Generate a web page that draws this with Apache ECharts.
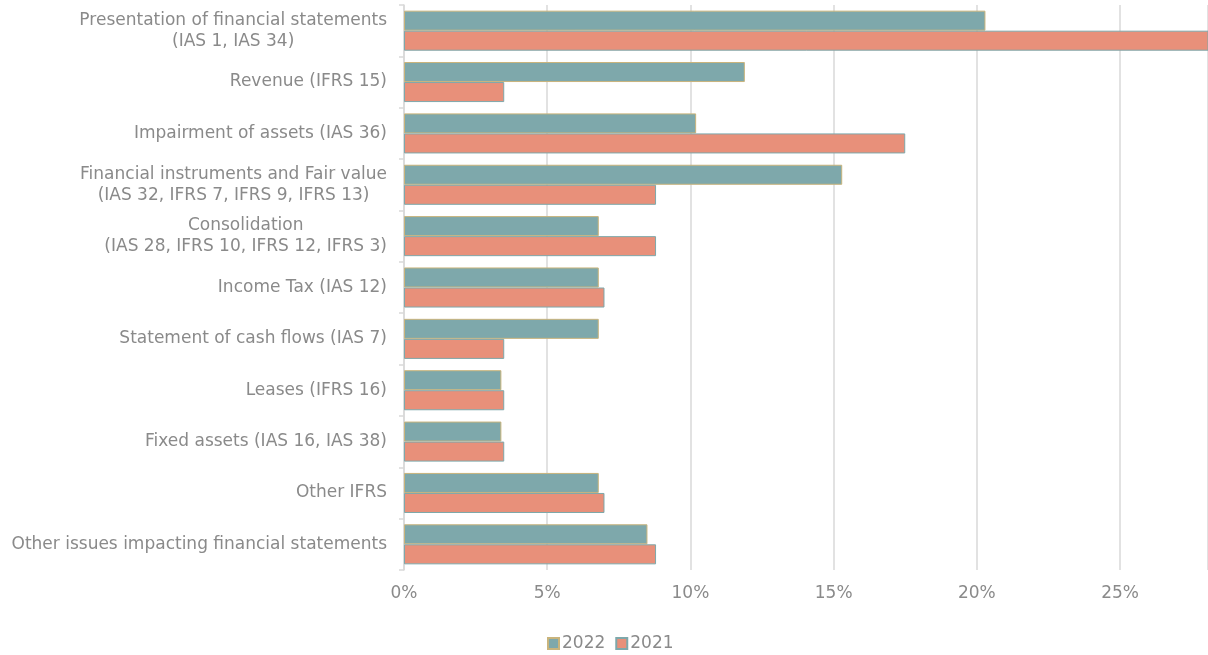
<!DOCTYPE html>
<html><head><meta charset="utf-8">
<script src="https://cdn.jsdelivr.net/npm/echarts@6/dist/echarts.min.js"></script>
<style>html,body{margin:0;padding:0;background:#fff}#c{width:1208px;height:655px}</style>
</head><body><div id="c"></div>
<script>
const categories = [
  'Presentation of financial statements\n(IAS 1, IAS 34)',
  'Revenue (IFRS 15)',
  'Impairment of assets (IAS 36)',
  'Financial instruments and Fair value\n(IAS 32, IFRS 7, IFRS 9, IFRS 13)',
  'Consolidation\n(IAS 28, IFRS 10, IFRS 12, IFRS 3)',
  'Income Tax (IAS 12)',
  'Statement of cash flows (IAS 7)',
  'Leases (IFRS 16)',
  'Fixed assets (IAS 16, IAS 38)',
  'Other IFRS',
  'Other issues impacting financial statements'
];
const values2022 = [20.3, 11.9, 10.2, 15.3, 6.8, 6.8, 6.8, 3.4, 3.4, 6.8, 8.5];
const values2021 = [28.1, 3.5, 17.5, 8.8, 8.8, 7.0, 3.5, 3.5, 3.5, 7.0, 8.8];
const seriesNames = ['2022', '2021'];

const chart = echarts.init(document.getElementById('c'));
const font = '"DejaVu Sans"';
const txt = '#8a8a8a';
const fs = 17;
chart.setOption({
  animation: false,
  textStyle: {fontFamily: font},
  grid: {left: 404, right: 0, top: 5, bottom: 85},
  legend: {
    top: 630, left: 542, itemWidth: 11, itemHeight: 11, itemGap: 10,
    icon: 'rect',
    textStyle: {color: txt, fontSize: fs, fontFamily: font, padding: [0, 0, 0, -2]},
    data: seriesNames
  },
  xAxis: {
    type: 'value', min: 0, max: 28.07, interval: 5,
    axisLine: {show: false}, axisTick: {show: false},
    splitLine: {lineStyle: {color: '#d9d9d9', width: 1.5}},
    axisLabel: {color: txt, fontSize: fs, fontFamily: font, margin: 15, showMaxLabel: false,
      formatter: v => (Math.abs(v % 5) < 1e-6 ? v + '%' : '')}
  },
  yAxis: {
    type: 'category', inverse: true, data: categories,
    axisLine: {show: true, lineStyle: {color: '#d9d9d9', width: 1.5}},
    axisTick: {show: true, length: 5, lineStyle: {color: '#d9d9d9', width: 1.5}},
    axisLabel: {
      color: txt, fontSize: fs, fontFamily: font, lineHeight: 21, margin: 17, align: 'right',
      formatter: v => v.split('\n').map(s => '{c|' + s + '}').join('\n'),
      rich: {c: {align: 'center', color: txt, fontSize: fs, fontFamily: font, lineHeight: 21}}
    }
  },
  series: [
    {name: seriesNames[0], type: 'bar', data: values2022, barGap: '0%', barCategoryGap: '22%',
     itemStyle: {color: '#7ea8ab', borderColor: '#c9b47c', borderWidth: 1}},
    {name: seriesNames[1], type: 'bar', data: values2021, barGap: '0%', barCategoryGap: '22%',
     itemStyle: {color: '#e8907a', borderColor: '#7ea8ab', borderWidth: 1}}
  ]
});
</script></body></html>
